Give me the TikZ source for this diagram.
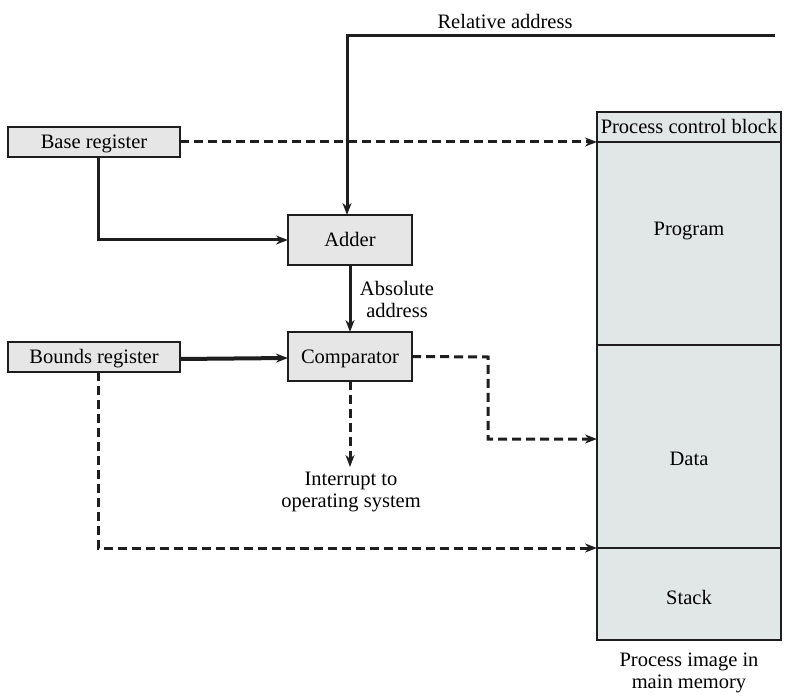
\documentclass[tikz,border=0pt]{standalone}
\usepackage{fontspec}
\newfontfamily\diagserif{LiberationSerif}[Extension=.ttf,UprightFont=*-Regular]
\usetikzlibrary{arrows.meta}
\definecolor{boxgray}{RGB}{230,230,230}
\definecolor{memgray}{RGB}{225,230,230}
\definecolor{ink}{RGB}{30,30,30}
\begin{document}
\begin{tikzpicture}[x=1pt,y=-1pt,
  font=\diagserif\fontsize{20.5}{22}\selectfont,
  txtc/.style={text height=16pt,text depth=2.5pt},
  reg/.style={draw=ink,line width=1.2pt,fill=boxgray,inner sep=0pt,outer sep=0pt,minimum width=172pt,minimum height=30pt,txtc},
  unit/.style={draw=ink,line width=1.2pt,fill=boxgray,inner sep=0pt,outer sep=0pt,minimum width=124pt,minimum height=50pt,txtc},
  mem/.style={draw=ink,line width=1.2pt,fill=memgray,inner sep=0pt,outer sep=0pt,minimum width=184pt},
  lbl/.style={inner sep=0pt,align=center},
  tip/.style={-{Stealth[length=12pt,width=9pt]}},
  solidc/.style={ink,line width=3pt,tip},
  dashc/.style={ink,line width=3pt,dash pattern=on 9pt off 5pt,tip}]
\useasboundingbox (0,0) rectangle (789,700);
% registers and units
\node[reg] (base) at (94,142) {Base register};
\node[reg] (bounds) at (94,357) {Bounds register};
\node[unit] (adder) at (350,240) {Adder};
\node[unit,minimum height=49pt] (comp) at (350,356.5) {Comparator};
% memory image
\node[mem,minimum height=30pt,txtc] (pcb) at (689,127) {Process control block};
\node[mem,minimum height=203pt] (prog) at (689,243.5) {};
\node[mem,minimum height=203pt] (data) at (689,446.5) {};
\node[mem,minimum height=92pt] (stack) at (689,594) {};
\node[lbl] (progl) at (689,231) {Program};
\node[lbl] (datal) at (689,459) {Data};
\node[lbl] (stackl) at (689,597) {Stack};
\node[lbl] (img) at (689,673) {Process image in\\main memory};
% labels
\node[lbl] (rel) at (505,21) {Relative address};
\node[lbl] (abs) at (397,299) {Absolute\\address};
\node[lbl] (intr) at (351,492) {Interrupt to\\operating system};
% coordinates
\coordinate (ra) at (775,36);
\coordinate (c1) at (488,357);
\coordinate (dj) at (597,439);
\coordinate (intrtop) at (350,467);
% connectors
\draw[solidc] (ra) -| ([xshift=-3pt]adder.north);
\draw[dashc] (base.east) -- (pcb.south west);
\draw[solidc] ([xshift=4pt]base.south) |- (adder.west);
\draw[solidc] (adder.south) -- (comp.north);
\draw[ink,line width=4pt,-{Stealth[length=12pt,width=9pt]}] ([yshift=-2pt]bounds.east) -- ([yshift=-1.5pt]comp.west);
\draw[dashc] (comp.east) -- (c1) |- (dj);
\draw[dashc] (comp.south) -- (intrtop);
\draw[dashc] ([xshift=4pt]bounds.south) |- (stack.north west);
\end{tikzpicture}
\end{document}
